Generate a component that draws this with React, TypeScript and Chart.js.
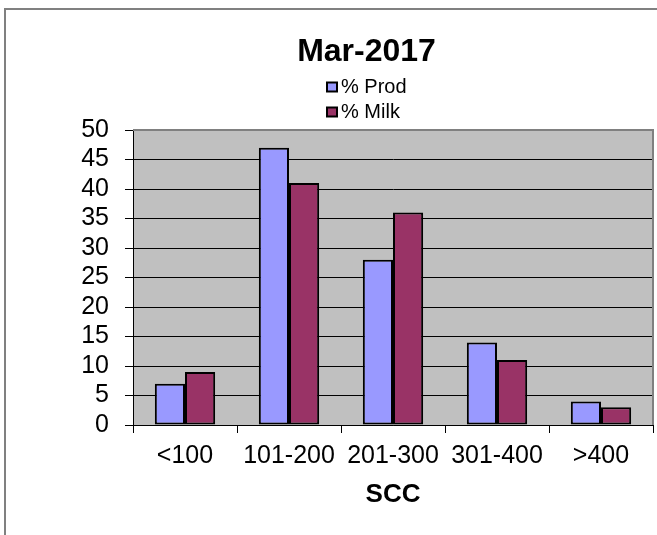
import React, { useEffect, useRef } from 'react';
import { Chart, registerables } from 'chart.js';

Chart.register(...registerables);

const categories = ['<100', '101-200', '201-300', '301-400', '>400'];
const prodValues = [7, 47, 28, 14, 4];
const milkValues = [9, 41, 36, 11, 3];
const seriesNames = ['% Prod', '% Milk'];
const seriesColors = ['#9999FF', '#993366'];
const chartTitle = 'Mar-2017';
const xAxisTitle = 'SCC';
const yMin = 0;
const yMax = 50;
const yStep = 5;

const FONT = "'Liberation Sans', Arial, Helvetica, sans-serif";

const framePlugin = {
  id: 'excelFrame',
  beforeDraw(chart: any) {
    const { ctx, chartArea: a } = chart;
    ctx.save();
    ctx.fillStyle = '#ffffff';
    ctx.fillRect(0, 0, chart.width, chart.height);
    ctx.fillStyle = '#C0C0C0';
    ctx.fillRect(a.left, a.top, a.right - a.left, a.bottom - a.top);
    ctx.strokeStyle = '#808080';
    ctx.lineWidth = 2;
    ctx.beginPath();
    ctx.moveTo(5, chart.height + 2);
    ctx.lineTo(5, 9);
    ctx.lineTo(chart.width + 2, 9);
    ctx.stroke();
    ctx.restore();
  },
  afterDraw(chart: any) {
    const { ctx, chartArea: a } = chart;
    ctx.save();
    ctx.strokeStyle = '#808080';
    ctx.lineWidth = 2;
    ctx.beginPath();
    ctx.moveTo(a.left, a.top);
    ctx.lineTo(a.right, a.top);
    ctx.lineTo(a.right, a.bottom);
    ctx.stroke();

    // legend (vertical list below the title)
    const tb = chart.titleBlock;
    const center = (tb.left + tb.right) / 2;
    const left = center - 40.5;
    const rowY = [a.top - 43, a.top - 18];
    ctx.font = `20px ${FONT}`;
    ctx.textBaseline = 'middle';
    ctx.textAlign = 'left';
    chart.data.datasets.forEach((ds: any, i: number) => {
      const y = rowY[i];
      ctx.fillStyle = ds.backgroundColor;
      ctx.fillRect(left + 1, y - 4.5, 10, 9);
      ctx.strokeStyle = '#000';
      ctx.lineWidth = 2;
      ctx.strokeRect(left + 1, y - 4.5, 10, 9);
      ctx.fillStyle = '#000';
      ctx.fillText(ds.label, left + 15, y);
    });
    ctx.restore();
  },
};

export default function App() {
  const canvasRef = useRef<HTMLCanvasElement | null>(null);

  useEffect(() => {
    document.body.style.margin = '0';
    const canvas = canvasRef.current;
    if (!canvas) return;
    const chart = new Chart(canvas, {
      type: 'bar',
      data: {
        labels: categories,
        datasets: [
          {
            label: seriesNames[0],
            data: prodValues,
            backgroundColor: seriesColors[0],
            borderColor: '#000000',
            borderWidth: 2,
            borderSkipped: false,
          },
          {
            label: seriesNames[1],
            data: milkValues,
            backgroundColor: seriesColors[1],
            borderColor: '#000000',
            borderWidth: 2,
            borderSkipped: false,
          },
        ],
      },
      options: {
        responsive: false,
        animation: false,
        devicePixelRatio: 1,
        datasets: {
          bar: { categoryPercentage: 0.58, barPercentage: 1 },
        },
        layout: { padding: { left: 80, right: 4, top: 0, bottom: 0 } },
        plugins: {
          legend: { display: false },
          tooltip: { enabled: false },
          title: {
            display: true,
            text: chartTitle,
            color: '#000',
            font: { family: FONT, size: 32, weight: 'bold', lineHeight: 1.2 },
            padding: { top: 33, bottom: 58.6 },
          },
        },
        scales: {
          x: {
            grid: {
              offset: true,
              drawOnChartArea: false,
              drawTicks: true,
              tickLength: 8,
              tickColor: '#000',
              lineWidth: 1,
            },
            border: { display: true, color: '#000', width: 1 },
            ticks: {
              color: '#000',
              font: { family: FONT, size: 25, lineHeight: 1.2 },
              padding: 8,
              maxRotation: 0,
              autoSkip: false,
            },
            title: {
              display: true,
              text: xAxisTitle,
              color: '#000',
              font: { family: FONT, size: 26, weight: 'bold', lineHeight: 1.2 },
              padding: { top: 0, bottom: 24.8 },
            },
          },
          y: {
            min: yMin,
            max: yMax,
            afterFit: (scale: any) => {
              scale.width = 53;
            },
            grid: {
              color: (c: any) => (c.tick && c.tick.value === yMax ? '#808080' : '#000'),
              lineWidth: 1,
              drawTicks: true,
              tickLength: 8,
              tickColor: '#000',
            },
            border: { display: true, color: '#000', width: 1 },
            ticks: {
              stepSize: yStep,
              autoSkip: false,
              color: '#000',
              font: { family: FONT, size: 25, lineHeight: 1.2 },
              padding: 16,
            },
          },
        },
      },
      plugins: [framePlugin],
    });
    return () => chart.destroy();
  }, []);

  return (
    <div style={{ position: 'absolute', left: 0, top: 0, width: 657, height: 535 }}>
      <canvas ref={canvasRef} width={657} height={535} style={{ display: 'block' }} />
    </div>
  );
}
